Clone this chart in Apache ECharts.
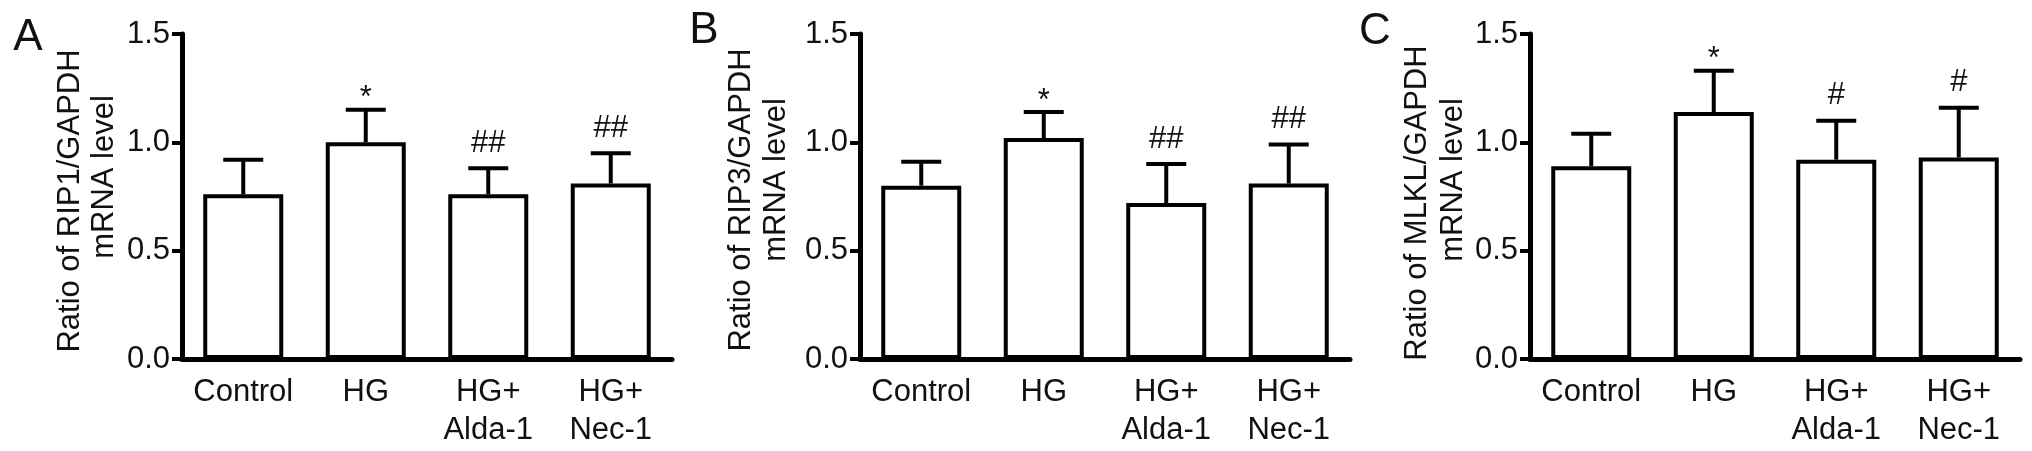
<!DOCTYPE html>
<html>
<head>
<meta charset="utf-8">
<script src="https://cdn.jsdelivr.net/npm/echarts@6/dist/echarts.min.js"></script>
<style>
html,body{margin:0;padding:0;background:#fff;}
#chart{width:2032px;height:451px;}
</style>
</head>
<body>
<div id="chart"></div>
<script>
// ---- data ----
const categories = ['Control', 'HG', 'HG+\nAlda-1', 'HG+\nNec-1'];
const yTickValues = [0, 0.5, 1.0, 1.5];

const meanA = [0.76, 1.00, 0.76, 0.81];
const errA  = [0.16, 0.15, 0.12, 0.14];
const sigA  = ['', '*', '##', '##'];

const meanB = [0.80, 1.02, 0.72, 0.81];
const errB  = [0.11, 0.12, 0.18, 0.18];
const sigB  = ['', '*', '##', '##'];

const meanC = [0.89, 1.14, 0.92, 0.93];
const errC  = [0.15, 0.19, 0.18, 0.23];
const sigC  = ['', '*', '#', '#'];

const panelLetters = ['A', 'B', 'C'];
const titleLine1 = ['Ratio of RIP1/GAPDH', 'Ratio of RIP3/GAPDH', 'Ratio of MLKL/GAPDH'];
const titleLine2 = ['mRNA level', 'mRNA level', 'mRNA level'];

// ---- layout / style ----
const FONT = "'Liberation Sans', Arial, Helvetica, sans-serif";
const TXT = '#111';
const gridLeft = [182, 860, 1530];
const gridWidth = [490, 490, 490];
const panels = [
  {mean: meanA, err: errA, sig: sigA},
  {mean: meanB, err: errB, sig: sigB},
  {mean: meanC, err: errC, sig: sigC}
];

const grids = [], xAxes = [], yAxes = [], series = [], graphics = [];

panels.forEach((p, k) => {
  grids.push({left: gridLeft[k], width: gridWidth[k], top: 34, height: 325, containLabel: false});
  xAxes.push({
    type: 'category', gridIndex: k, data: categories, boundaryGap: true,
    axisLine: {show: true, lineStyle: {color: '#000', width: 5}},
    axisTick: {show: false},
    axisLabel: {interval: 0, color: TXT, fontFamily: FONT, fontSize: 31, lineHeight: 38, margin: 14}
  });
  yAxes.push({
    type: 'value', gridIndex: k, min: yTickValues[0], max: yTickValues[yTickValues.length - 1], interval: 0.5,
    splitLine: {show: false},
    axisLine: {show: true, lineStyle: {color: '#000', width: 5}},
    axisTick: {show: true, inside: false, length: 10, lineStyle: {color: '#000', width: 4}},
    axisLabel: {color: TXT, fontFamily: FONT, fontSize: 31, margin: 12,
      formatter: v => v.toFixed(1)}
  });
  series.push({
    type: 'bar', xAxisIndex: k, yAxisIndex: k, data: p.mean, barWidth: 80, z: 2,
    itemStyle: {color: '#fff', borderColor: '#000', borderWidth: 4},
    emphasis: {disabled: true}, animation: false
  });
  series.push({
    type: 'custom', xAxisIndex: k, yAxisIndex: k, z: 3, animation: false,
    data: p.mean.map((m, i) => [i, m, p.err[i]]),
    renderItem: (params, api) => {
      const i = api.value(0), m = api.value(1), e = api.value(2);
      const p0 = api.coord([i, m]);
      const p1 = api.coord([i, m + e]);
      const s = p.sig[params.dataIndex];
      const off = s.indexOf('*') >= 0 ? 11 : 25;
      const children = [
        {type: 'line', shape: {x1: p0[0], y1: p0[1], x2: p1[0], y2: p1[1]}, style: {stroke: '#000', lineWidth: 4}},
        {type: 'line', shape: {x1: p1[0] - 20, y1: p1[1], x2: p1[0] + 20, y2: p1[1]}, style: {stroke: '#000', lineWidth: 4}}
      ];
      if (s) {
        children.push({type: 'text', x: p1[0], y: p1[1] - off,
          style: {text: s, fill: TXT, font: '31px ' + FONT, align: 'center', verticalAlign: 'middle'}});
      }
      return {type: 'group', children};
    }
  });
});

// panel letters and y-axis titles
const letterPos = [[28, 38], [704, 31], [1375, 32]];
const t1x = [70, 741, 1417], t1y = [201, 200, 203];
const t2x = [104, 776, 1453], t2y = [177, 180, 180];
for (let k = 0; k < 3; k++) {
  graphics.push({type: 'text', x: letterPos[k][0], y: letterPos[k][1],
    style: {text: panelLetters[k], fill: TXT, font: '44px ' + FONT, align: 'center', verticalAlign: 'middle'}});
  graphics.push({type: 'text', x: t1x[k], y: t1y[k], rotation: Math.PI / 2,
    style: {text: titleLine1[k], fill: TXT, font: '31px ' + FONT, align: 'center', verticalAlign: 'middle'}});
  graphics.push({type: 'text', x: t2x[k], y: t2y[k], rotation: Math.PI / 2,
    style: {text: titleLine2[k], fill: TXT, font: '31px ' + FONT, align: 'center', verticalAlign: 'middle'}});
}

const chart = echarts.init(document.getElementById('chart'), null, {renderer: 'canvas'});
chart.setOption({
  backgroundColor: '#fff',
  animation: false,
  grid: grids, xAxis: xAxes, yAxis: yAxes, series: series,
  graphic: graphics
});
</script>
</body>
</html>
